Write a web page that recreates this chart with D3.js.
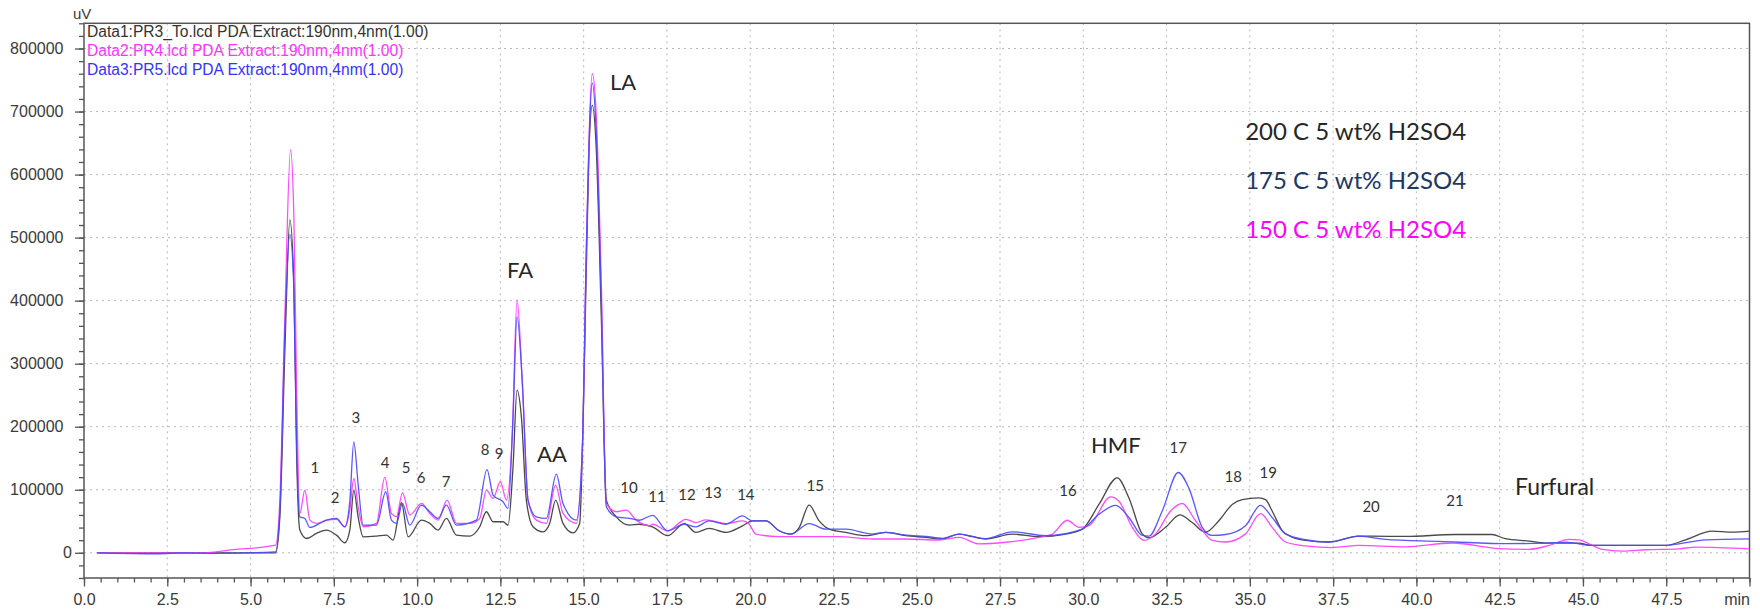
<!DOCTYPE html>
<html>
<head>
<meta charset="utf-8">
<script src="https://cdn.jsdelivr.net/npm/d3@7"></script>
<style>
  body { margin: 0; background: #fff; }
  svg { display: block; }
  .axis path { display: none; }
  .axis line { stroke: #555; stroke-width: 1.3; }
  .axis text { font-family: "Liberation Sans", Arial, sans-serif; font-size: 16px; fill: #3a3a3a; }
  .grid line { stroke: #b8b8b8; stroke-width: 1; stroke-dasharray: 2,4; }
  .note { font-family: Lato, "Open Sans", sans-serif; fill: #333; }
</style>
</head>
<body>
<svg id="chart" width="1760" height="610"></svg>
<script>
// [retention time (min), signal (uV)]
const pr3Black = [
  [0.4, 0], [5.75, 0], [5.88, 57000], [6.03, 321000], [6.18, 528000], [6.3, 427000], [6.38, 163000],
  [6.48, 36000], [6.68, 22700], [6.98, 30700], [7.28, 36000], [7.58, 28000], [7.83, 15900], [7.98, 36000],
  [8.1, 99500], [8.23, 57000], [8.38, 25400], [8.78, 26500], [9.08, 28000], [9.28, 20100], [9.53, 79400],
  [9.73, 25400], [10.13, 51800], [10.38, 46600], [10.63, 36000], [10.88, 54500], [11.18, 28000],
  [11.58, 26500], [11.88, 41300], [12.08, 65100], [12.28, 49200], [12.58, 49200], [12.73, 43900],
  [12.88, 136500], [13.0, 258000], [13.13, 216000], [13.28, 83600], [13.48, 41300], [13.78, 33300],
  [13.98, 46600], [14.16, 83600], [14.38, 46600], [14.68, 31700], [14.88, 46600], [15.03, 321600],
  [15.16, 639000], [15.26, 710000], [15.38, 639000], [15.53, 374500], [15.68, 83600], [15.98, 57000],
  [16.38, 43900], [16.67, 45300], [17.07, 41200], [17.52, 27100], [18.02, 46400], [18.37, 32300],
  [18.77, 38600], [19.27, 32300], [19.77, 42700], [20.07, 50500], [20.47, 50500], [20.87, 34900],
  [21.22, 29700], [21.47, 40100], [21.77, 75500], [22.07, 50500], [22.37, 37500], [22.87, 32300],
  [23.47, 27100], [24.07, 32300], [24.67, 27100], [25.27, 24500], [25.77, 21900], [26.27, 29700],
  [26.67, 25500], [27.07, 21900], [27.87, 29700], [28.67, 25500], [29.47, 29700], [29.97, 37500],
  [30.47, 76700], [31.02, 119000], [31.37, 87000], [31.77, 30000], [31.97, 23800], [32.47, 40400],
  [32.9, 60000], [33.27, 48000], [33.67, 32600], [34.07, 50800], [34.47, 76700], [34.77, 84400],
  [35.27, 87000], [35.47, 84400], [35.67, 66300], [35.97, 35200], [36.27, 24900], [36.67, 19700],
  [37.37, 17100], [38.27, 26400], [38.67, 26400], [39.67, 25900], [41.17, 29000], [42.27, 29000],
  [42.67, 22300], [43.38, 18500], [43.88, 15300], [44.88, 15300], [45.28, 11600], [47.48, 11600],
  [48.08, 20600], [48.88, 34400], [49.48, 32800], [50, 34400]
];

const pr4Magenta = [
  [0.4, 0], [3.6, 0], [4.4, 4500], [5.75, 12000], [5.88, 83600], [6.03, 374500], [6.2, 639000],
  [6.3, 533000], [6.38, 268700], [6.48, 62400], [6.63, 99500], [6.78, 51800], [6.98, 46600],
  [7.28, 51800], [7.58, 52900], [7.83, 41300], [7.98, 67700], [8.1, 118000], [8.23, 73000],
  [8.38, 41300], [8.78, 46600], [9.03, 119600], [9.23, 62400], [9.38, 57100], [9.56, 95200],
  [9.78, 59800], [10.13, 78300], [10.38, 62400], [10.63, 51800], [10.9, 83600], [11.18, 46600],
  [11.58, 46600], [11.88, 54500], [12.08, 99500], [12.28, 86200], [12.5, 112700], [12.68, 83600],
  [12.86, 189400], [13.0, 401000], [13.16, 268700], [13.33, 83600], [13.58, 51800], [13.88, 46600],
  [14.16, 107400], [14.38, 62400], [14.78, 46600], [14.96, 163000], [15.08, 480000], [15.26, 760000],
  [15.38, 692000], [15.53, 427000], [15.68, 78300], [15.98, 65100], [16.28, 67700], [16.58, 51800],
  [16.98, 43000], [17.07, 45300], [17.52, 34900], [18.07, 53100], [18.37, 47900], [18.67, 52100],
  [19.27, 46400], [19.77, 50500], [19.97, 45300], [20.17, 29700], [20.87, 25500], [22.67, 25500],
  [23.67, 21900], [24.67, 21900], [25.67, 20300], [26.27, 24500], [26.87, 14100], [27.67, 16700],
  [28.67, 24500], [29.07, 29700], [29.52, 51600], [29.87, 40400], [30.17, 43000], [30.82, 88600],
  [31.07, 81800], [31.47, 40400], [31.82, 19700], [32.17, 30000], [32.62, 66300], [32.97, 78200],
  [33.37, 50800], [33.87, 19700], [34.27, 17100], [34.87, 30000], [35.32, 62200], [35.67, 40400],
  [36.07, 17100], [36.67, 10900], [37.47, 8300], [38.27, 11900], [39.67, 9300], [41.07, 15500],
  [42.47, 6700], [43.38, 5500], [43.98, 11600], [44.58, 21200], [44.88, 20600], [45.28, 11600],
  [45.58, 5300], [46.18, 2600], [46.88, 4800], [47.88, 6300], [48.38, 9000], [50, 6300]
];

const pr5Blue = [
  [0.4, 0], [2.2, -1500], [3.0, 0], [4.0, -800], [5.75, 1600], [5.88, 67000], [6.03, 350000],
  [6.18, 505000], [6.3, 420000], [6.38, 180000], [6.48, 57000], [6.63, 54500], [6.78, 40200],
  [7.08, 46600], [7.28, 51800], [7.58, 54500], [7.83, 41300], [7.98, 82000], [8.1, 176000],
  [8.23, 109000], [8.38, 43900], [8.78, 43900], [9.06, 96800], [9.23, 51800], [9.38, 46600],
  [9.56, 78300], [9.78, 43900], [10.13, 75600], [10.38, 65100], [10.63, 54500], [10.88, 75600],
  [11.18, 43900], [11.78, 51800], [12.1, 132000], [12.28, 91500], [12.58, 80900], [12.73, 70400],
  [12.88, 216000], [13.0, 374500], [13.16, 268700], [13.33, 83600], [13.58, 57000], [13.88, 54500],
  [14.18, 124800], [14.38, 78300], [14.78, 51800], [14.96, 163000], [15.08, 480000], [15.26, 745000],
  [15.38, 665000], [15.53, 400000], [15.68, 73000], [15.98, 57100], [16.38, 54500], [16.67, 51600],
  [17.07, 59400], [17.52, 34900], [18.02, 45300], [18.37, 41200], [18.77, 50500], [19.27, 45300],
  [19.77, 58400], [20.07, 50500], [20.47, 50500], [20.87, 34900], [21.22, 29700], [21.77, 46400],
  [22.27, 37500], [22.87, 37500], [23.67, 29700], [24.07, 32300], [24.67, 28000], [25.27, 26000],
  [25.77, 23000], [26.27, 29700], [26.67, 26000], [27.07, 22500], [27.87, 33300], [28.87, 27100],
  [29.97, 37500], [30.47, 61000], [30.97, 75100], [31.37, 56000], [31.77, 27500], [31.97, 26400],
  [32.37, 66300], [32.85, 127400], [33.17, 102600], [33.57, 40400], [33.87, 27500], [34.27, 29000],
  [34.87, 43000], [35.32, 75100], [35.67, 56000], [36.07, 30000], [36.67, 20700], [37.37, 17100],
  [38.27, 26400], [39.07, 21200], [40.67, 18100], [42.67, 14500], [43.88, 15300], [44.48, 16900],
  [45.28, 11600], [47.48, 11600], [47.88, 14300], [48.68, 20600], [50, 22200]
];

// peak numbers: [label, t, v] (text baseline)
const peakNumbers = [
  ["1", 6.93, 126600], ["2", 7.54, 79000], ["3", 8.16, 205900], ["4", 9.04, 134500],
  ["5", 9.67, 126600], ["6", 10.12, 110700], ["7", 10.87, 104400], ["8", 12.04, 155200],
  ["9", 12.46, 148800], ["10", 16.36, 94900], ["11", 17.2, 80600], ["12", 18.1, 83800],
  ["13", 18.88, 86900], ["14", 19.87, 83800], ["15", 21.95, 98000], ["16", 29.54, 90100],
  ["17", 32.85, 158300], ["18", 34.5, 112300], ["19", 35.55, 118700], ["20", 38.64, 64700],
  ["21", 41.16, 74200]
];

// compound names: [label, t, v] (left edge, baseline)
const compoundNames = [
  ["LA", 15.79, 734200], ["FA", 12.7, 436000], ["AA", 13.6, 144000],
  ["HMF", 30.23, 158300], ["Furfural", 42.96, 91700]
];

const legendLabels = ["200 C 5 wt% H2SO4", "175 C 5 wt% H2SO4", "150 C 5 wt% H2SO4"];
const legendColors = ["#262626", "#203864", "#ff00ff"];

const headerLabels = [
  "Data1:PR3_To.lcd PDA Extract:190nm,4nm(1.00)",
  "Data2:PR4.lcd PDA Extract:190nm,4nm(1.00)",
  "Data3:PR5.lcd PDA Extract:190nm,4nm(1.00)"
];
const headerColors = ["#333333", "#ff33ff", "#3333ff"];

const xTicks = d3.range(0, 50.01, 2.5);
const xMinorTicks = d3.range(0, 50.01, 0.5);
const yTicks = d3.range(0, 800001, 100000);
const yMinorTicks = d3.range(-40000, 840001, 20000);

const plotLeft = 84, plotRight = 1749.5, plotTop = 23.3, plotBottom = 578;

const svg = d3.select("#chart");

const x = d3.scaleLinear().domain([0, 50]).range([plotLeft, plotRight]);
const y = d3.scaleLinear().domain([-40000, 840000]).range([plotBottom, plotTop]);

// grid
const grid = svg.append("g").attr("class", "grid");
grid.selectAll(".vg")
  .data(xTicks.filter(d => d > 0 && d < 50))
  .enter().append("line")
  .attr("x1", d => x(d)).attr("x2", d => x(d))
  .attr("y1", plotTop).attr("y2", plotBottom);
grid.selectAll(".hg")
  .data(yTicks)
  .enter().append("line")
  .attr("x1", plotLeft).attr("x2", plotRight)
  .attr("y1", d => y(d)).attr("y2", d => y(d));

// axes
svg.append("g").attr("class", "axis")
  .attr("transform", `translate(0,${plotBottom})`)
  .call(d3.axisBottom(x).tickValues(xMinorTicks).tickSize(4.5).tickSizeOuter(0).tickFormat(""));

const xAxis = svg.append("g").attr("class", "axis")
  .attr("transform", `translate(0,${plotBottom})`)
  .call(d3.axisBottom(x).tickValues(xTicks).tickSize(8.5).tickSizeOuter(0).tickPadding(7)
    .tickFormat(d => d === 50 ? "min" : d.toFixed(1)));
xAxis.selectAll("text").filter(d => d === 50).attr("text-anchor", "end");

svg.append("g").attr("class", "axis")
  .attr("transform", `translate(${plotLeft},0)`)
  .call(d3.axisLeft(y).tickValues(yMinorTicks).tickSize(5).tickSizeOuter(0).tickFormat(""));

const yAxis = svg.append("g").attr("class", "axis")
  .attr("transform", `translate(${plotLeft},0)`)
  .call(d3.axisLeft(y).tickValues(yTicks).tickSize(9).tickSizeOuter(0).tickPadding(3)
    .tickFormat(d => String(d)));
yAxis.selectAll("text").filter(d => d !== 0).attr("dx", -8.5);

// frame
svg.append("rect")
  .attr("x", plotLeft).attr("y", plotTop)
  .attr("width", plotRight - plotLeft).attr("height", plotBottom - plotTop)
  .attr("fill", "none").attr("stroke", "#555").attr("stroke-width", 1.5);

svg.append("text")
  .attr("x", 73).attr("y", 19)
  .style("font-family", "'Liberation Sans', Arial, sans-serif")
  .style("font-size", "15px").style("fill", "#3a3a3a")
  .text("uV");

// traces
svg.append("clipPath").attr("id", "plot-clip")
  .append("rect").attr("x", plotLeft).attr("y", plotTop)
  .attr("width", plotRight - plotLeft).attr("height", plotBottom - plotTop);

const line = d3.line()
  .x(d => x(d[0]))
  .y(d => y(d[1]))
  .curve(d3.curveMonotoneX);

const traces = [
  { data: pr3Black, color: "#3a3a3a" },
  { data: pr4Magenta, color: "#ff3cff" },
  { data: pr5Blue, color: "#4a4aff" }
];

svg.append("g").attr("clip-path", "url(#plot-clip)")
  .selectAll("path")
  .data(traces)
  .enter().append("path")
  .attr("d", d => line(d.data))
  .attr("fill", "none")
  .attr("stroke", d => d.color)
  .attr("stroke-width", 1.3)
  .attr("stroke-opacity", 0.92);

// header lines
svg.selectAll(".hdr")
  .data(headerLabels)
  .enter().append("text")
  .attr("x", 87)
  .attr("y", (d, i) => 37 + i * 19)
  .style("font-family", "'Liberation Sans', Arial, sans-serif")
  .style("font-size", "15.6px")
  .style("fill", (d, i) => headerColors[i])
  .text(d => d);

// annotations
svg.selectAll(".pk")
  .data(peakNumbers)
  .enter().append("text")
  .attr("class", "note")
  .attr("x", d => x(d[1]))
  .attr("y", d => y(d[2]))
  .attr("text-anchor", "middle")
  .style("font-size", "15px")
  .text(d => d[0]);

svg.selectAll(".cn")
  .data(compoundNames)
  .enter().append("text")
  .attr("class", "note")
  .attr("x", d => x(d[1]))
  .attr("y", d => y(d[2]))
  .style("font-size", d => d[0] === "Furfural" ? "23px" : "22px")
  .style("fill", "#262626")
  .text(d => d[0]);

// legend
svg.selectAll(".lg")
  .data(legendLabels)
  .enter().append("text")
  .attr("class", "note")
  .attr("x", x(34.86))
  .attr("y", (d, i) => y(654400 - i * 77700))
  .style("font-size", "24px")
  .style("fill", (d, i) => legendColors[i])
  .text(d => d);
</script>
</body>
</html>
